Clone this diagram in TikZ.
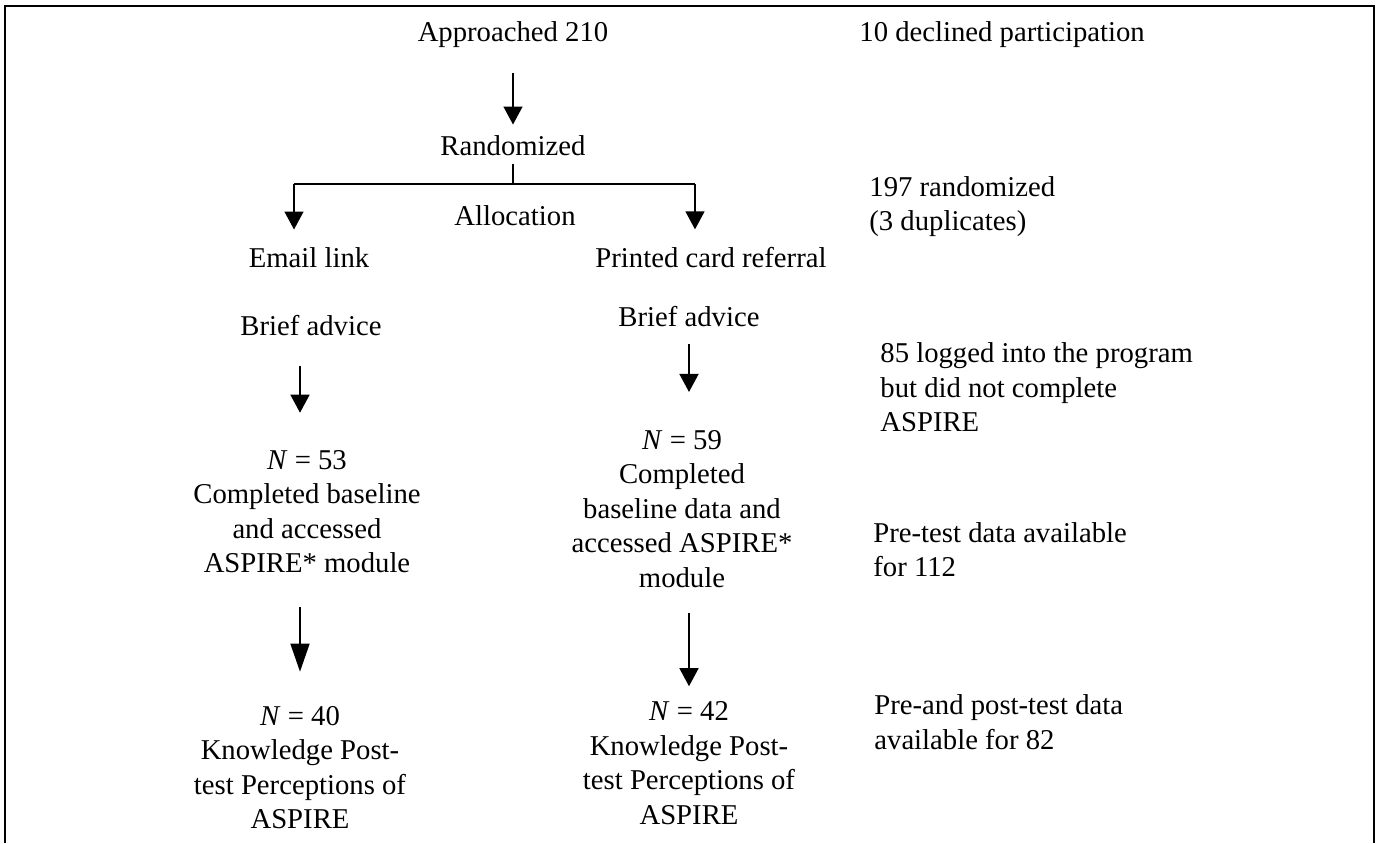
\documentclass[tikz,border=0pt]{standalone}
\usepackage{fontspec}
\setmainfont{Liberation Serif}
\usetikzlibrary{arrows.meta}

\begin{document}
\begin{tikzpicture}[x=0.5pt, y=-0.5pt,
	txt/.style={inner sep=0, font=\fontsize{14.35pt}{17.25pt}\selectfont, align=center},
	note/.style={txt, anchor=west, align=left},
	arr/.style={line width=0.75pt, -{Triangle[length=9pt, width=9.5pt]}},
	longarr/.style={line width=0.75pt, -{Triangle[length=14pt, width=9.5pt]}},
	link/.style={line width=0.75pt},
	branch/.style={line width=1.2pt},
	frame/.style={line width=1.1pt}]
	\useasboundingbox (0, 0) rectangle (1377, 843);

	% open frame
	\draw[frame] (5, 843) -- (5, 6) -- (1374, 6) -- (1374, 843);

	% top of the flow
	\node[txt] (approached) at (513, 35) {Approached 210};
	\node[txt] (randomized) at (513, 146) {Randomized};
	\node[txt] (allocation) at (515, 216) {Allocation};
	\draw[arr, shorten <=12.5pt, shorten >=5.5pt] (approached.south) -- (randomized.north);

	% allocation split
	\coordinate (split) at (513, 184);
	\coordinate (splitL) at (294, 184);
	\coordinate (splitR) at (695, 184);
	\node[txt] (email) at (309, 258) {Email link};
	\node[txt] (printed) at (711, 258) {Printed card referral};
	\draw[link, shorten <=3.5pt] (randomized.south) -- (split);
	\draw[branch] (splitL) -- (splitR);
	\draw[arr, shorten >=9pt] (splitL) -- (splitL |- email.north);
	\draw[arr, shorten >=9pt] (splitR) -- (splitR |- printed.north);

	% email arm
	\node[txt] (adviceL) at (311, 326) {Brief advice};
	\node[txt] (baseL) at (307, 511.5) {\textit{N} = 53\\Completed baseline\\and accessed\\ASPIRE* module};
	\node[txt] (postL) at (300, 767.5) {\textit{N} = 40\\Knowledge Post-\\test Perceptions of\\ASPIRE};
	\draw[arr, shorten <=14.5pt, shorten >=18.5pt] (postL |- adviceL.south) -- (postL |- baseL.north);
	\draw[longarr, shorten <=17pt, shorten >=17pt] (postL |- baseL.south) -- (postL.north);

	% card arm
	\node[txt] (adviceR) at (689, 317) {Brief advice};
	\node[txt] (baseR) at (682, 509) {\textit{N} = 59\\Completed\\baseline data and\\accessed ASPIRE*\\module};
	\node[txt] (postR) at (689, 763) {\textit{N} = 42\\Knowledge Post-\\test Perceptions of\\ASPIRE};
	\draw[arr, shorten <=8pt, shorten >=19pt] (adviceR.south) -- (adviceR.south |- baseR.north);
	\draw[arr, shorten <=12.5pt, shorten >=7.5pt] (postR |- baseR.south) -- (postR.north);

	% counts on the right
	\node[note] (declined) at (859, 35) {10 declined participation};
	\node[note] (duplicates) at (869, 206.5) {197 randomized\\(3 duplicates)};
	\node[note] (logged) at (880, 387.5) {85 logged into the program\\but did not complete\\ASPIRE};
	\node[note] (pretest) at (873, 549.5) {Pre-test data available\\for 112};
	\node[note] (prepost) at (874, 722) {Pre-and post-test data\\available for 82};
\end{tikzpicture}
\end{document}
